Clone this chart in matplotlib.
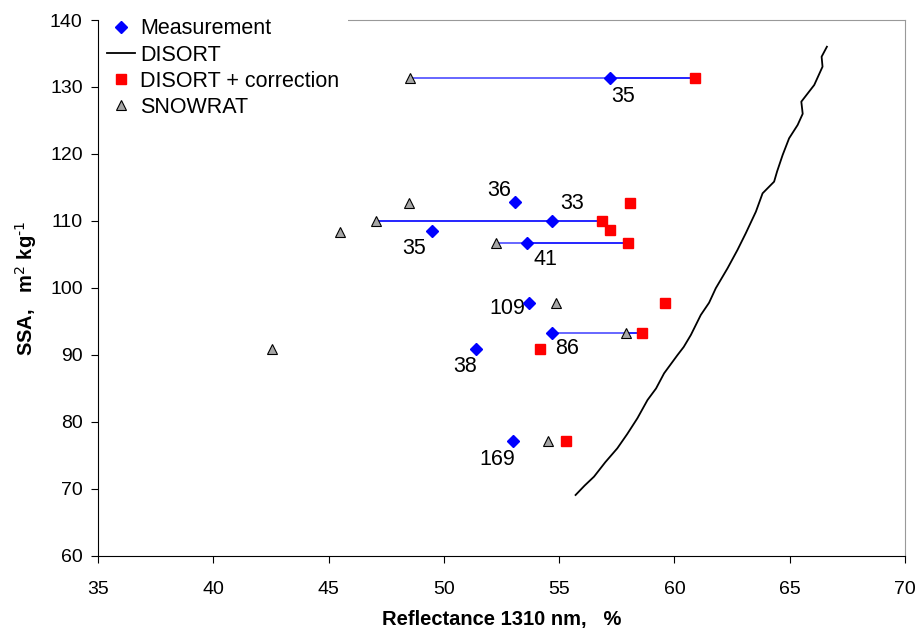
import numpy as np
import matplotlib.pyplot as plt

plt.rcParams['font.family'] = ['Liberation Sans', 'DejaVu Sans']

# ---- data ----
meas_x = [57.2, 53.1, 54.7, 49.5, 53.6, 53.7, 54.7, 51.4, 53.0]
meas_y = [131.3, 112.8, 110.0, 108.5, 106.7, 97.8, 93.3, 90.9, 77.2]
meas_lab = ['35', '36', '33', '35', '41', '109', '86', '38', '169']

corr_x = [60.9, 58.06, 56.84, 57.2, 58.0, 59.6, 58.6, 54.15, 55.3]
corr_y = [131.3, 112.7, 110.0, 108.7, 106.7, 97.8, 93.3, 90.9, 77.2]

snow_x = [48.55, 48.5, 47.07, 45.5, 52.24, 54.84, 57.9, 42.55, 54.5]
snow_y = [131.3, 112.7, 110.0, 108.4, 106.7, 97.8, 93.3, 90.9, 77.2]

disort_x = [55.71, 56.1, 56.51, 57.0, 57.52, 57.95, 58.39, 58.83, 59.2, 59.55,
            60.13, 60.4, 60.71, 61.14, 61.5, 61.79, 62.30, 62.73, 63.09, 63.53,
            63.82, 64.32, 64.45, 64.69, 64.97, 65.34, 65.56, 65.5, 66.06, 66.42,
            66.38, 66.61]
disort_y = [69.10, 70.5, 71.84, 74.0, 76.07, 78.2, 80.55, 83.28, 85.0, 87.27,
            89.99, 91.2, 92.99, 95.97, 97.8, 99.96, 102.94, 105.67, 108.16, 111.39,
            114.13, 115.87, 117.4, 119.85, 122.34, 124.33, 126.0, 127.81, 130.30, 133.03,
            134.52, 136.01]

# rows where the three estimates are joined by a line
link_rows = [0, 2, 4, 6]

# label offsets in pixels
lab_off = [(13, -18), (-16, 12), (20, 17), (-18, -17), (19, -16),
           (-22, -6), (15, -16), (-11, -18), (-16, -19)]

fig = plt.figure(figsize=(9.17, 6.31), dpi=100)
ax = fig.add_axes([0.1069, 0.1189, 0.8801, 0.8494])

for i in link_rows:
    xs = sorted([snow_x[i], meas_x[i], corr_x[i]])
    ax.plot([xs[0], xs[2]], [meas_y[i], meas_y[i]], color='#0000ff', lw=1.2, zorder=2)
ax.plot([snow_x[0], meas_x[0]], [meas_y[0], meas_y[0]], color='#7777ff', lw=1.2, zorder=2.1)
ax.plot([snow_x[4], meas_x[4]], [meas_y[4], meas_y[4]], color='#7777ff', lw=1.2, zorder=2.1)
ax.plot([meas_x[6], snow_x[6]], [meas_y[6], meas_y[6]], color='#7777ff', lw=1.2, zorder=2.1)

ax.plot(meas_x, meas_y, ls='none', marker='D', ms=6.5, color='#0000ff',
        mec='#0000ff', label='Measurement', zorder=4)
ax.plot(disort_x, disort_y, color='black', lw=1.3, label='DISORT', zorder=3)
ax.plot(corr_x, corr_y, ls='none', marker='s', ms=7.5, color='#ff0000',
        mec='#ff0000', label='DISORT + correction', zorder=4)
ax.plot(snow_x, snow_y, ls='none', marker='^', ms=7.5, color='#a6a6a6',
        mec='black', mew=0.8, label='SNOWRAT', zorder=4)

for x, y, t, off in zip(meas_x, meas_y, meas_lab, lab_off):
    ax.annotate(t, (x, y), xytext=off, textcoords='offset pixels',
                ha='center', va='center', fontsize=15.5)

ax.set_xlim(35, 70)
ax.set_ylim(60, 140)
ax.set_xticks(np.arange(35, 71, 5))
ax.set_yticks(np.arange(60, 141, 10))
ax.tick_params(labelsize=14, length=5, direction='out', width=0.8)
ax.tick_params(axis='x', pad=13)
ax.tick_params(axis='y', pad=6)

for s in ['top', 'right']:
    ax.spines[s].set_color('#999999')
for s in ['left', 'bottom']:
    ax.spines[s].set_color('black')
    ax.spines[s].set_zorder(11)

ax.set_xlabel('Reflectance 1310 nm,   %', fontsize=14.5, fontweight='bold', labelpad=9)
ax.set_ylabel('SSA,   m$^{\\mathrm{2}}$ kg$^{\\text{-}\\mathrm{1}}$', fontsize=14.5,
              fontweight='bold', labelpad=8)

leg = ax.legend(loc='upper left', bbox_to_anchor=(0.0, 1.019), fontsize=15.5,
                frameon=True, fancybox=False, edgecolor='none', facecolor='white',
                framealpha=1, labelspacing=0.24, handlelength=1.3, handletextpad=0.25,
                borderpad=0.4, borderaxespad=0.0)
leg.set_zorder(10)

fig.savefig('out.png', dpi=100)
